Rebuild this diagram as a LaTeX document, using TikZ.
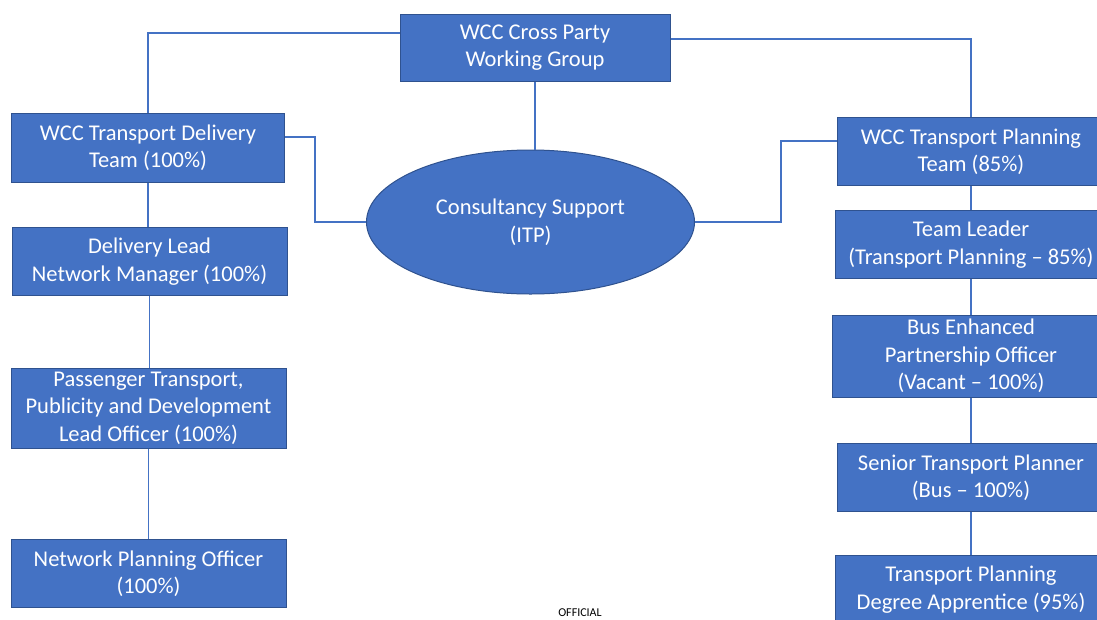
\documentclass[tikz,border=0pt]{standalone}
\usepackage{fontspec}
\setmainfont{Carlito}
\usetikzlibrary{shapes.geometric}
\definecolor{boxblue}{HTML}{4472C4}
\definecolor{edgeblue}{HTML}{2F528F}
\tikzset{
  post/.style={draw=edgeblue, line width=1pt, fill=boxblue, text=white,
    align=center, inner sep=2pt, font=\fontsize{22.5}{27.5}\selectfont},
  link/.style={draw=boxblue, line width=1.2pt}
}
\begin{document}
\begin{tikzpicture}[x=1pt, y=-1pt]
    % page size of the reference
    \def\W{1097}
    \def\H{619}
    \clip (0,0) rectangle (\W,\H);
    \fill[white] (0,0) rectangle (\W,\H);

    % top and consultancy
    \node[post, minimum width=270pt, minimum height=67pt] (cpwg) at (535,47.5) {WCC Cross Party\\Working Group};
    \node[post, ellipse, minimum width=328pt, minimum height=144pt] (itp) at (530.5,222) {Consultancy Support\\(ITP)};

    % delivery side
    \node[post, minimum width=273pt, minimum height=69pt] (tdt) at (148,147.5) {WCC Transport Delivery\\Team (100\%)};
    \node[post, minimum width=275pt, minimum height=68pt] (dl) at (149.5,261.5) {Delivery Lead\\Network Manager (100\%)};
    \node[post, minimum width=275pt, minimum height=80pt] (pt) at (148.5,408) {Passenger Transport,\\Publicity and Development\\Lead Officer (100\%)};
    \node[post, minimum width=275pt, minimum height=68pt] (npo) at (148.5,573.5) {Network Planning Officer\\(100\%)};

    % planning side
    \node[post, minimum width=268pt, minimum height=68pt] (tpt) at (971,151.5) {WCC Transport Planning\\Team (85\%)};
    \node[post, minimum width=272pt, minimum height=68pt] (tl) at (971,244.5) {Team Leader\\(Transport Planning -- 85\%)};
    \node[post, minimum width=278pt, minimum height=82pt] (bep) at (971,356) {Bus Enhanced\\Partnership Officer\\(Vacant -- 100\%)};
    \node[post, minimum width=268pt, minimum height=68pt] (stp) at (971,477.5) {Senior Transport Planner\\(Bus -- 100\%)};
    \node[post, minimum width=272pt, minimum height=68pt] (tpda) at (971,589.5) {Transport Planning\\Degree Apprentice (95\%)};

    \node[font=\fontsize{12}{13}\selectfont] (official) at (580,613) {OFFICIAL};

    % connectors
    \draw[link] ([yshift=14.5pt]cpwg.west) -| (tdt.north);
    \draw[link] ([yshift=8.5pt]cpwg.east) -| (tpt.north);
    \draw[link] (cpwg.south) -- (cpwg.south |- itp.north);
    \draw[link] ([yshift=10.5pt]tdt.east) -- ++(30,0) |- (itp.west);
    \draw[link] (itp.east) -- ++(86,0) |- ([yshift=10.5pt]tpt.west);
    \foreach \a/\b in {tdt/dl, dl/pt, pt/npo, tpt/tl, tl/bep, bep/stp, stp/tpda} {
      \draw[link] (\a.south) -- (\a.south |- \b.north);
    }
\end{tikzpicture}
\end{document}
